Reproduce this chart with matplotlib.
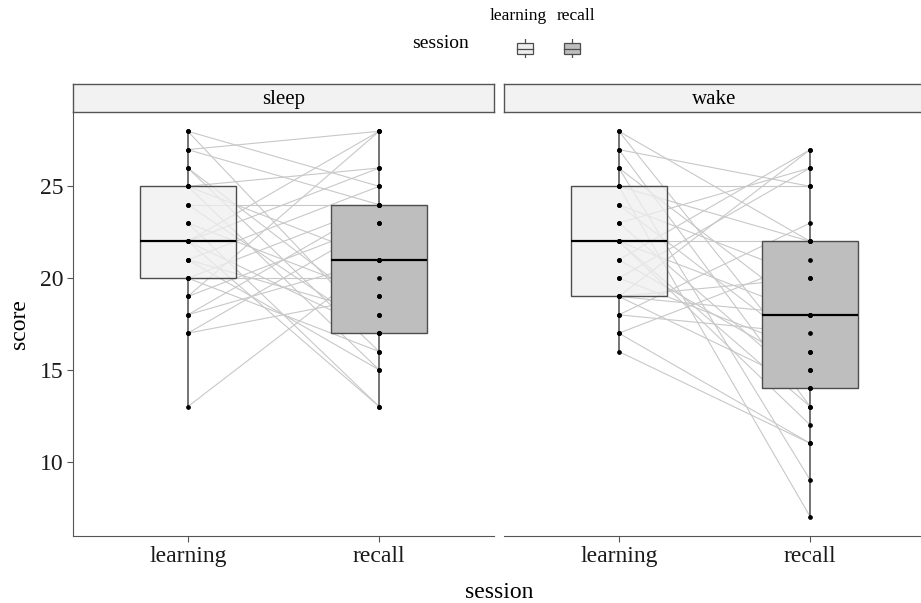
import matplotlib
matplotlib.use("Agg")
import matplotlib.pyplot as plt
from matplotlib.patches import Rectangle

# --------------------------
# Data (paired scores per subject)
# --------------------------
conditions = ["sleep", "wake"]
sessions = ["learning", "recall"]

sleep_learning = [28, 28, 27, 27, 26, 26, 25, 25, 25, 24, 24, 23, 23, 22, 22,
                  22, 22, 21, 21, 21, 20, 20, 20, 19, 19, 18, 18, 17, 17, 13]
sleep_recall = [25, 17, 28, 24, 18, 16, 26, 15, 21, 24, 17, 13, 19, 26, 13,
                28, 17, 25, 18, 15, 20, 24, 16, 28, 23, 24, 21, 19, 23, 21]

wake_learning = [28, 28, 27, 27, 26, 26, 25, 25, 25, 24, 24, 23, 23, 22, 22,
                 22, 22, 21, 21, 20, 20, 19, 19, 19, 19, 18, 18, 17, 17, 16]
wake_recall = [22, 15, 25, 13, 18, 9, 25, 22, 7, 16, 20, 14, 26, 18, 12,
               22, 13, 27, 15, 16, 26, 27, 14, 18, 20, 23, 17, 21, 11, 11]

scores = {
    "sleep": (sleep_learning, sleep_recall),
    "wake": (wake_learning, wake_recall),
}
y_ticks = [10, 15, 20, 25]

# --------------------------
# Style
# --------------------------
plt.rcParams["font.family"] = ["Liberation Serif", "DejaVu Serif"]
fills = ["#efefef", "#bebebe"]
fill_alpha = [0.75, 1.0]
edge = "#4d4d4d"
axis_col = "#555555"

W, H = 921, 603
fig = plt.figure(figsize=(W / 100, H / 100), dpi=100)

px_left = [73, 504]
panel_w = 421
panel_top, panel_bot = 112, 536
strip_top = 84

ymin, ymax = 7 - 0.05 * 21, 28 + 0.05 * 21

for i, cond in enumerate(conditions):
    x0 = px_left[i] / W
    ax = fig.add_axes([x0, (H - panel_bot) / H, panel_w / W, (panel_bot - panel_top) / H])
    learn, rec = scores[cond]

    # lignes appariées
    for a, b in zip(learn, rec):
        ax.plot([1, 2], [a, b], color="#c8c8c8", lw=0.8, zorder=1)

    bp = ax.boxplot([learn, rec], positions=[1, 2], widths=0.5, patch_artist=True,
                    showcaps=False, showfliers=False, whis=1.5, zorder=2,
                    medianprops=dict(color="black", lw=1.6),
                    whiskerprops=dict(color=edge, lw=1.1),
                    boxprops=dict(edgecolor=edge, lw=1.0))
    for k, patch in enumerate(bp["boxes"]):
        patch.set_facecolor((*matplotlib.colors.to_rgb(fills[k]), fill_alpha[k]))

    # points
    ax.plot([1] * len(learn), learn, "o", color="black", ms=2.4, zorder=4)
    ax.plot([2] * len(rec), rec, "o", color="black", ms=2.4, zorder=4)

    ax.set_xlim(0.4, 2.6)
    ax.set_ylim(ymin, ymax)
    ax.set_xticks([1, 2])
    ax.set_xticklabels(sessions, fontsize=17)
    ax.set_yticks(y_ticks)
    for s in ["top", "right"]:
        ax.spines[s].set_visible(False)
    ax.spines["bottom"].set_color(axis_col)
    ax.spines["left"].set_color(axis_col)
    ax.tick_params(colors=axis_col, labelcolor="#1a1a1a", length=4, width=0.8, pad=3)
    if i == 0:
        ax.set_yticklabels([str(t) for t in y_ticks], fontsize=17)
    else:
        ax.spines["left"].set_visible(False)
        ax.tick_params(axis="y", left=False, labelleft=False)

    # bandeau de facette
    sax = fig.add_axes([x0, (H - panel_top) / H, panel_w / W, (panel_top - strip_top) / H])
    sax.set_facecolor("#f2f2f2")
    sax.set_xticks([])
    sax.set_yticks([])
    for s in sax.spines.values():
        s.set_color(axis_col)
        s.set_linewidth(1.0)
    sax.text(0.5, 0.45, cond, ha="center", va="center", fontsize=15, transform=sax.transAxes)

fig.text(499 / W, 1 - 593 / H, "session", ha="center", va="center", fontsize=17)
fig.text(19 / W, 1 - 324 / H, "score", ha="center", va="center", rotation=90, fontsize=17)

# --------------------------
# Légende (haut)
# --------------------------
fig.text(440 / W, 1 - 44 / H, "session", ha="center", va="center", fontsize=14)
key_x = [525, 572]
lab_x = [518, 576]
for k, lab in enumerate(sessions):
    fig.text(lab_x[k] / W, 1 - 16 / H, lab, ha="center", va="center", fontsize=12.5)
    kax = fig.add_axes([(key_x[k] - 10) / W, 1 - 58 / H, 20 / W, 19 / H])
    kax.set_xlim(0, 1)
    kax.set_ylim(0, 1)
    kax.axis("off")
    kax.plot([0.5, 0.5], [0.02, 0.22], color=edge, lw=0.9)
    kax.plot([0.5, 0.5], [0.78, 0.98], color=edge, lw=0.9)
    kax.add_patch(Rectangle((0.08, 0.22), 0.84, 0.56, facecolor=fills[k], edgecolor=edge, lw=0.9))
    kax.plot([0.08, 0.92], [0.5, 0.5], color=edge, lw=0.9)

fig.savefig("out.png", dpi=100)
